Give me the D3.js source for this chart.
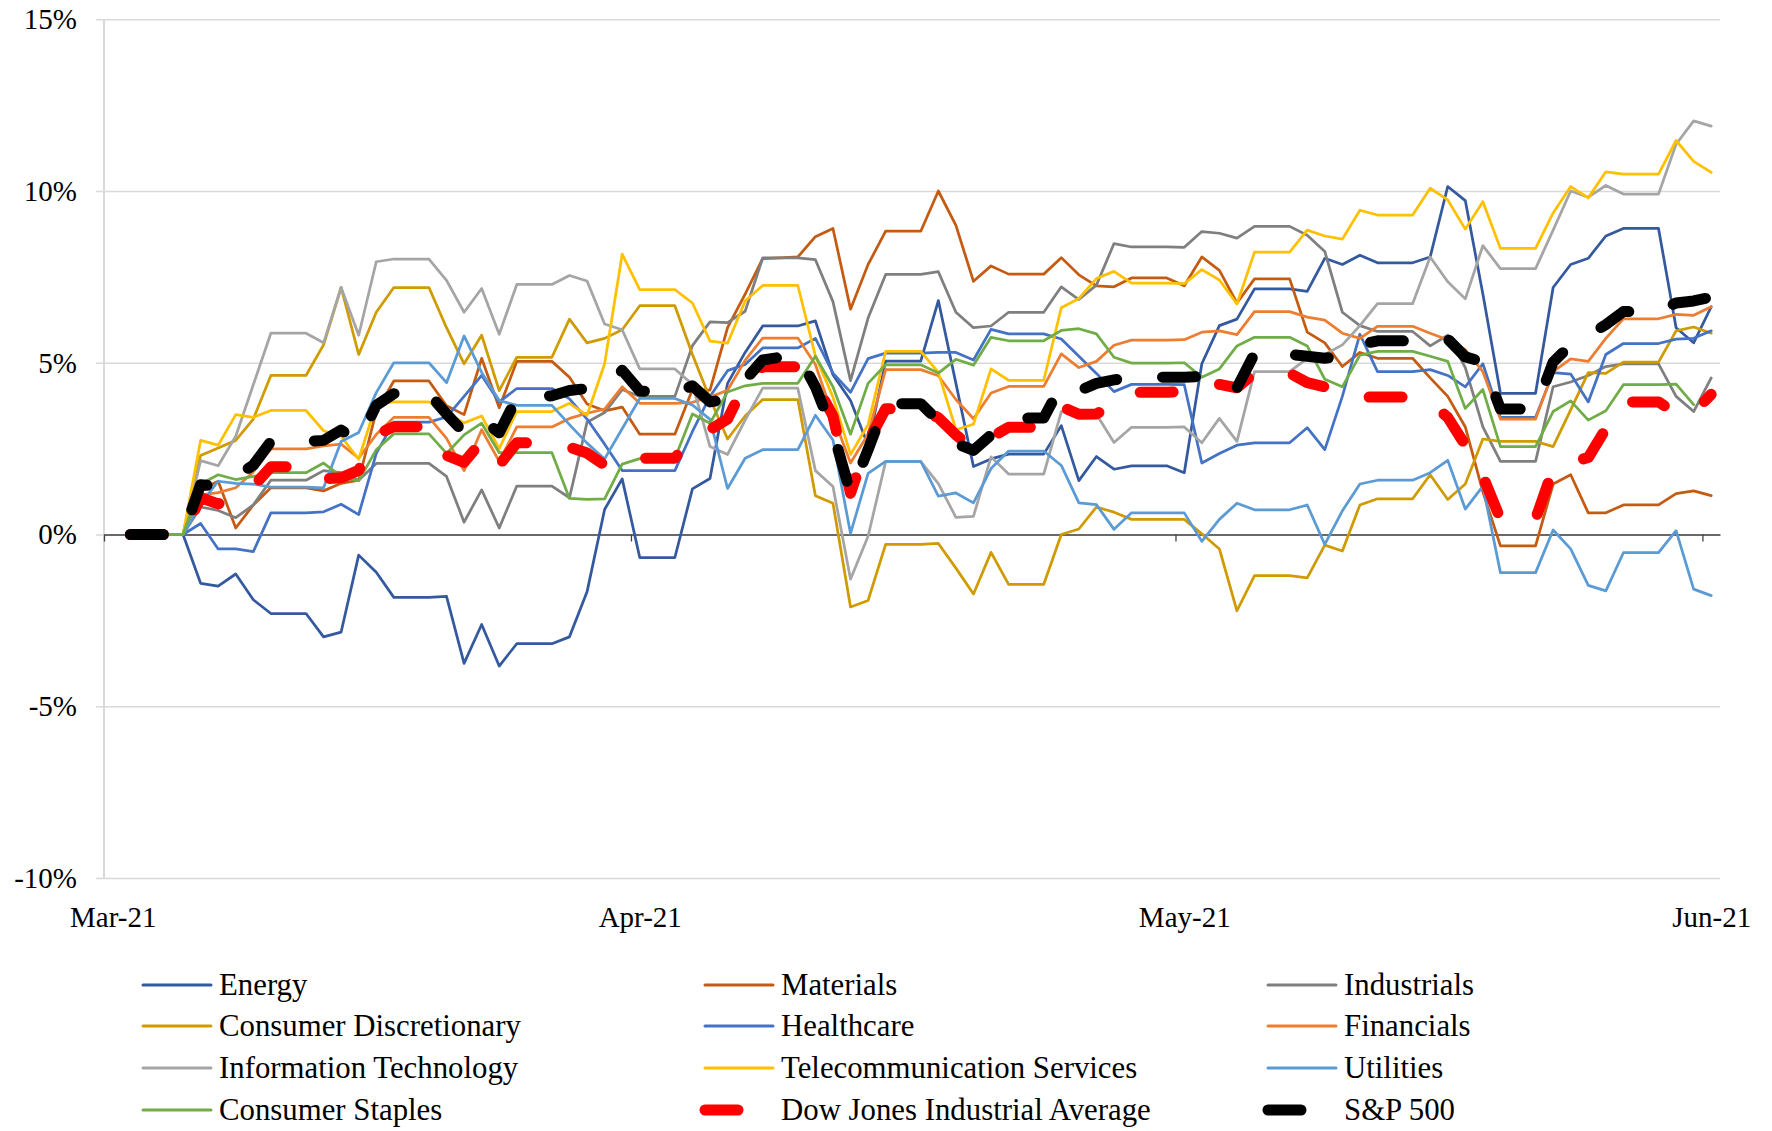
<!DOCTYPE html>
<html>
<head>
<meta charset="utf-8">
<title>Sector performance, Mar-Jun 2021</title>
<script src="https://cdn.jsdelivr.net/npm/d3@7"></script>
<style>
    body { margin: 0; background: #fff; }
    svg { display: block; }
    svg text { font-family: "Liberation Serif", "DejaVu Serif", serif; fill: #000; }
    .grid line { stroke: #d9d9d9; stroke-width: 1.5px; }
    .grid text, .xlab text { font-size: 29px; }
    .legend text { font-size: 30.8px; }
    .series { fill: none; stroke-linejoin: round; stroke-linecap: round; }
</style>
</head>
<body>
<svg width="1772" height="1131"></svg>
<script>
    // x positions are day slots; labels sit on slots 0, 30, 61, 91
    const monthTicks = [0, 30, 61, 91];
    const monthLabels = ["Mar-21", "Apr-21", "May-21", "Jun-21"];
    const yTicks = [-10, -5, 0, 5, 10, 15];

    // cumulative % change per day (weekends carried flat)
    const energy = [null,0,0,0,0,-1.42,-1.5,-1.15,-1.9,-2.3,
        -2.3,-2.3,-2.98,-2.84,-0.6,-1.1,-1.83,-1.83,-1.83,-1.8,
        -3.75,-2.62,-3.83,-3.18,-3.18,-3.18,-2.98,-1.67,0.73,1.62,
        -0.67,-0.67,-0.67,1.33,1.63,4.4,5.3,6.07,6.07,6.07,
        6.22,4.65,3.9,2.6,5.05,5.05,5.05,6.81,4.4,1.98,
        2.2,2.34,2.34,2.34,3.17,1.57,2.27,1.9,2.0,2.0,
        2.0,1.8,4.97,6.08,6.27,7.15,7.15,7.15,7.08,8.04,
        7.86,8.13,7.91,7.91,7.91,8.08,10.13,9.72,7.0,4.11,
        4.11,4.11,7.19,7.86,8.04,8.69,8.91,8.91,8.91,6.02,5.58,6.63];
    const materials = [null,0,0,0,0,1.3,1.55,0.19,0.86,1.36,
        1.36,1.36,1.27,1.49,1.58,3.58,4.47,4.47,4.47,3.75,
        3.49,5.13,3.69,5.04,5.04,5.04,4.58,3.8,3.6,3.71,
        2.92,2.92,2.92,4.22,4.2,6.02,7.0,8.03,8.05,8.08,
        8.67,8.91,6.56,7.86,8.83,8.83,8.83,10.0,9.0,7.37,
        7.82,7.58,7.58,7.58,8.06,7.56,7.24,7.21,7.47,7.47,
        7.47,7.24,8.08,7.69,6.74,7.44,7.44,7.44,5.89,5.58,
        4.89,5.3,5.13,5.13,5.13,4.56,4.02,3.13,1.24,-0.33,
        -0.33,-0.33,1.47,1.74,0.63,0.63,0.86,0.86,0.86,1.19,1.27,1.13];
    const industrials = [null,0,0,0,0,0.8,0.7,0.49,0.86,1.58,
        1.58,1.58,1.86,1.8,1.58,2.07,2.07,2.07,2.07,1.69,
        0.36,1.3,0.19,1.41,1.41,1.41,1.07,3.27,3.55,4.22,
        4.02,4.02,4.02,5.5,6.19,6.17,6.5,8.05,8.05,8.05,
        8.0,6.78,4.48,6.3,7.57,7.57,7.57,7.65,6.47,6.02,
        6.07,6.47,6.47,6.47,7.21,6.84,7.26,8.47,8.37,8.37,
        8.37,8.36,8.82,8.77,8.63,8.97,8.97,8.97,8.71,8.24,
        6.47,6.08,5.91,5.91,5.91,5.49,5.8,4.86,3.13,2.13,
        2.13,2.13,4.3,4.44,4.63,4.89,4.97,4.97,4.97,4.02,3.58,4.56];
    const consDisc = [null,0,0,0,0,2.3,2.52,2.74,3.36,4.63,
        4.63,4.63,5.52,7.19,5.24,6.47,7.19,7.19,7.19,6.02,
        4.97,5.8,4.19,5.16,5.16,5.16,6.27,5.58,5.71,5.96,
        6.66,6.66,6.66,5.24,3.95,2.78,3.45,3.93,3.93,3.93,
        1.13,0.91,-2.11,-1.92,-0.29,-0.29,-0.29,-0.26,-0.98,-1.73,
        -0.52,-1.45,-1.45,-1.45,0.0,0.16,0.8,0.65,0.44,0.44,
        0.44,0.44,0.02,-0.42,-2.22,-1.2,-1.2,-1.2,-1.26,-0.31,
        -0.48,0.86,1.04,1.04,1.04,1.74,1.02,1.47,2.78,2.71,
        2.71,2.71,2.56,3.63,4.71,4.69,5.02,5.02,5.02,5.93,6.04,5.86];
    const healthcare = [null,0,0,0,0,0.32,-0.42,-0.42,-0.5,0.63,
        0.63,0.63,0.66,0.88,0.58,2.36,3.27,3.27,3.27,3.42,
        4.02,4.63,3.86,4.25,4.25,4.25,3.95,3.36,2.63,1.86,
        1.86,1.86,1.86,3.0,4.02,4.77,4.95,5.43,5.43,5.43,
        5.71,4.7,4.14,5.12,5.28,5.28,5.28,5.3,5.3,5.08,
        5.97,5.84,5.84,5.84,5.69,5.19,4.69,4.16,4.37,4.37,
        4.37,4.36,2.08,2.36,2.6,2.67,2.67,2.67,3.11,2.47,
        4.02,5.83,4.74,4.74,4.74,4.8,4.63,4.3,4.97,3.41,
        3.41,3.41,4.71,4.67,3.86,5.24,5.56,5.56,5.56,5.69,5.71,5.93];
    const financials = [null,0,0,0,0,1.15,1.22,1.36,1.82,2.49,
        2.49,2.49,2.58,2.63,2.22,2.91,3.41,3.41,3.41,2.8,
        1.86,3.05,2.13,3.13,3.13,3.13,3.38,3.53,3.65,4.3,
        3.82,3.82,3.82,3.85,4.0,4.2,5.07,5.72,5.72,5.72,
        4.95,3.45,2.08,2.92,4.8,4.8,4.8,4.62,3.93,3.37,
        4.12,4.31,4.31,4.31,5.26,4.86,5.04,5.51,5.66,5.66,
        5.66,5.67,5.89,5.93,5.82,6.49,6.49,6.49,6.33,6.24,
        5.86,5.71,6.06,6.06,6.06,5.86,5.67,5.38,4.74,3.36,
        3.36,3.36,4.74,5.11,5.04,5.71,6.28,6.28,6.28,6.41,6.38,6.63];
    const infoTech = [null,0,0,0,0,2.15,2.0,2.86,4.36,5.86,
        5.86,5.86,5.58,7.19,5.8,7.94,8.02,8.02,8.02,7.4,
        6.47,7.16,5.83,7.28,7.28,7.28,7.54,7.38,6.13,5.96,
        4.82,4.82,4.82,4.37,2.56,2.33,3.33,4.26,4.26,4.26,
        1.86,1.4,-1.3,-0.05,2.12,2.12,2.12,1.48,0.5,0.53,
        2.26,1.76,1.76,1.76,3.58,3.55,3.5,2.68,3.12,3.12,
        3.12,3.13,2.67,3.38,2.71,4.74,4.74,4.74,5.13,5.24,
        5.52,6.08,6.72,6.72,6.72,8.08,7.36,6.86,8.41,7.74,
        7.74,7.74,8.86,10.0,9.82,10.16,9.91,9.91,9.91,11.36,12.04,11.89];
    const telecom = [null,0,0,0,0,2.74,2.6,3.49,3.41,3.61,
        3.61,3.61,3.02,2.86,2.19,3.8,3.86,3.86,3.86,3.55,
        3.25,3.45,2.5,3.58,3.58,3.58,3.82,3.47,4.97,8.16,
        7.13,7.13,7.13,6.74,5.63,5.57,6.8,7.25,7.25,7.25,
        5.2,4.0,2.33,3.2,5.33,5.33,5.33,4.72,3.05,3.21,
        4.82,4.49,4.49,4.49,6.6,6.87,7.45,7.66,7.32,7.32,
        7.32,7.3,7.71,7.41,6.71,8.22,8.22,8.22,8.86,8.69,
        8.6,9.44,9.3,9.3,9.3,10.08,9.74,8.89,9.69,8.33,
        8.33,8.33,9.36,10.13,9.8,10.56,10.49,10.49,10.49,11.47,10.86,10.54];
    const utilities = [null,0,0,0,0,0.9,1.55,1.49,1.47,1.38,
        1.38,1.38,1.36,2.71,2.97,4.13,5.0,5.0,5.0,4.42,
        5.78,4.72,3.9,3.76,3.76,3.76,3.2,2.66,2.2,3.08,
        3.96,3.96,3.96,3.77,3.35,1.34,2.22,2.47,2.47,2.47,
        3.47,2.75,0.03,1.78,2.13,2.13,2.13,1.12,1.21,0.92,
        1.92,2.43,2.43,2.43,2.01,0.92,0.87,0.15,0.63,0.63,
        0.63,0.63,-0.2,0.44,0.91,0.72,0.72,0.72,0.86,-0.29,
        0.69,1.47,1.58,1.58,1.58,1.8,2.16,0.74,1.41,-1.11,
        -1.11,-1.11,0.13,-0.42,-1.48,-1.64,-0.53,-0.53,-0.53,0.11,-1.59,-1.78];
    const consStaples = [null,0,0,0,0,1.47,1.74,1.6,1.69,1.8,
        1.8,1.8,2.08,1.69,1.56,2.47,2.93,2.93,2.93,2.36,
        2.9,3.24,2.38,2.38,2.38,2.38,1.05,1.02,1.04,2.05,
        2.21,2.21,2.21,3.51,3.24,4.15,4.33,4.4,4.4,4.4,
        5.19,4.3,2.92,4.4,4.94,4.94,4.94,4.7,5.1,4.93,
        5.74,5.64,5.64,5.64,5.94,5.99,5.84,5.16,4.99,4.99,
        4.99,5.0,4.58,4.82,5.49,5.74,5.74,5.74,5.49,4.52,
        4.3,5.22,5.33,5.33,5.33,5.19,5.04,3.67,4.22,2.56,
        2.56,2.56,3.58,3.89,3.33,3.6,4.36,4.36,4.36,4.38,3.78,null];
    const djia = [null,0,0,0,0,1.07,0.89,1.1,1.4,1.97,
        1.97,1.97,1.62,1.65,1.87,2.9,3.14,3.14,3.14,2.3,
        2.1,2.72,2.02,2.67,2.67,2.67,2.54,2.37,2.02,2.3,
        2.22,2.22,2.22,2.89,3.05,3.36,4.4,4.88,4.88,4.88,
        4.4,3.45,1.2,2.7,3.66,3.66,3.66,3.4,2.9,2.5,
        2.83,3.12,3.12,3.12,3.72,3.5,3.51,3.8,4.14,4.14,
        4.14,4.16,4.25,4.37,4.27,4.7,4.7,4.7,4.42,4.3,
        4.1,4.0,4.0,4.0,4.0,3.85,3.41,2.6,1.7,0.45,
        0.45,0.45,1.91,2.1,2.24,3.08,3.86,3.86,3.86,3.52,3.55,4.08];
    const sp500 = [null,0,0,0,0,1.45,1.41,1.7,2.02,2.71,
        2.71,2.71,2.74,3.04,2.71,3.76,4.1,4.1,4.1,3.51,
        2.96,3.36,2.96,3.98,4.0,4.04,4.19,4.25,4.3,4.78,
        4.18,4.15,4.1,4.33,3.86,3.94,4.5,5.08,5.16,5.24,
        4.3,3.0,1.2,2.47,3.81,3.81,3.81,3.3,2.65,2.45,
        2.9,3.39,3.39,3.39,4.36,4.18,4.4,4.5,4.58,4.58,
        4.58,4.58,4.6,4.63,4.27,5.27,5.25,5.24,5.19,5.13,
        5.2,5.53,5.64,5.64,5.64,5.67,5.69,5.17,5.03,3.65,
        3.65,3.65,5.02,5.52,5.8,6.11,6.49,6.49,6.49,6.74,6.8,6.91];

    const series = [
        { name: "Energy", values: energy, color: "#34599f" },
        { name: "Materials", values: materials, color: "#c55a11" },
        { name: "Industrials", values: industrials, color: "#7f7f7f" },
        { name: "Consumer Discretionary", values: consDisc, color: "#cf9b00" },
        { name: "Healthcare", values: healthcare, color: "#4472c4" },
        { name: "Financials", values: financials, color: "#ed7d31" },
        { name: "Information Technology", values: infoTech, color: "#a5a5a5" },
        { name: "Telecommunication Services", values: telecom, color: "#ffc000" },
        { name: "Utilities", values: utilities, color: "#5b9bd5" },
        { name: "Consumer Staples", values: consStaples, color: "#70ad47" },
        { name: "Dow Jones Industrial Average", values: djia, color: "#ff0000", dash: "33 47" },
        { name: "S&P 500", values: sp500, color: "#000000", dash: "33 46" }
    ];

    const svg = d3.select("svg");
    const plotL = 104, plotR = 1720, plotT = 19.25, plotB = 878;
    const nSlots = 92;

    const x = d3.scaleLinear().domain([0, nSlots]).range([plotL, plotR]);
    const y = d3.scaleLinear().domain([-10, 15]).range([plotB, plotT]);

    // gridlines + y labels
    const gy = svg.append("g")
        .attr("class", "grid")
        .attr("transform", `translate(${plotL - 8},0)`)
        .call(d3.axisLeft(y).tickValues(yTicks).tickSize(-(plotR - plotL + 8)).tickPadding(19)
            .tickFormat(d => d + "%"));
    gy.attr("font-family", null).attr("font-size", null);
    gy.select(".domain").remove();

    // left axis line
    svg.append("line")
        .attr("x1", plotL).attr("x2", plotL)
        .attr("y1", plotT).attr("y2", plotB)
        .attr("stroke", "#d9d9d9").attr("stroke-width", 2);

    // zero line with month tick marks
    const gx = svg.append("g")
        .attr("transform", `translate(0,${y(0)})`)
        .call(d3.axisBottom(x).tickValues(monthTicks).tickSize(7).tickSizeOuter(0).tickFormat(""));
    gx.select(".domain").attr("stroke", "#404040").attr("stroke-width", 1.3);
    gx.selectAll(".tick line").attr("stroke", "#404040").attr("stroke-width", 1.3);

    // month labels under the plot
    const gl = svg.append("g")
        .attr("class", "xlab")
        .attr("transform", `translate(0,${plotB})`)
        .call(d3.axisBottom(x).tickValues(monthTicks.map(t => t + 0.5)).tickSize(0).tickPadding(28)
            .tickFormat((d, i) => monthLabels[i]));
    gl.attr("font-family", null).attr("font-size", null);
    gl.select(".domain").remove();

    const line = d3.line()
        .defined(d => d != null)
        .x((d, i) => x(i + 0.5))
        .y(d => y(d));

    // thick round-capped dashes for the two indices
    const dashW = 11;
    svg.append("g").selectAll("path")
        .data(series)
        .enter().append("path")
        .attr("class", "series")
        .attr("d", d => line(d.values))
        .attr("stroke", d => d.color)
        .attr("stroke-width", d => d.dash ? dashW : 2.75)
        .attr("stroke-dasharray", d => d.dash || null);

    // legend, 3 columns x 4 rows
    const colLine = [143, 705, 1268];
    const rowY = [985, 1026, 1068, 1110];
    const legend = svg.append("g").attr("class", "legend")
        .selectAll("g")
        .data(series)
        .enter().append("g")
        .attr("transform", (d, i) => `translate(${colLine[i % 3]},${rowY[Math.floor(i / 3)]})`);

    legend.append("line")
        .attr("class", "series")
        .attr("x1", 0).attr("x2", 68)
        .attr("stroke", d => d.color)
        .attr("stroke-width", d => d.dash ? dashW : 3)
        .attr("stroke-dasharray", d => d.dash || null);

    legend.append("text")
        .attr("x", 76)
        .attr("dy", "0.33em")
        .text(d => d.name);
</script>
</body>
</html>
